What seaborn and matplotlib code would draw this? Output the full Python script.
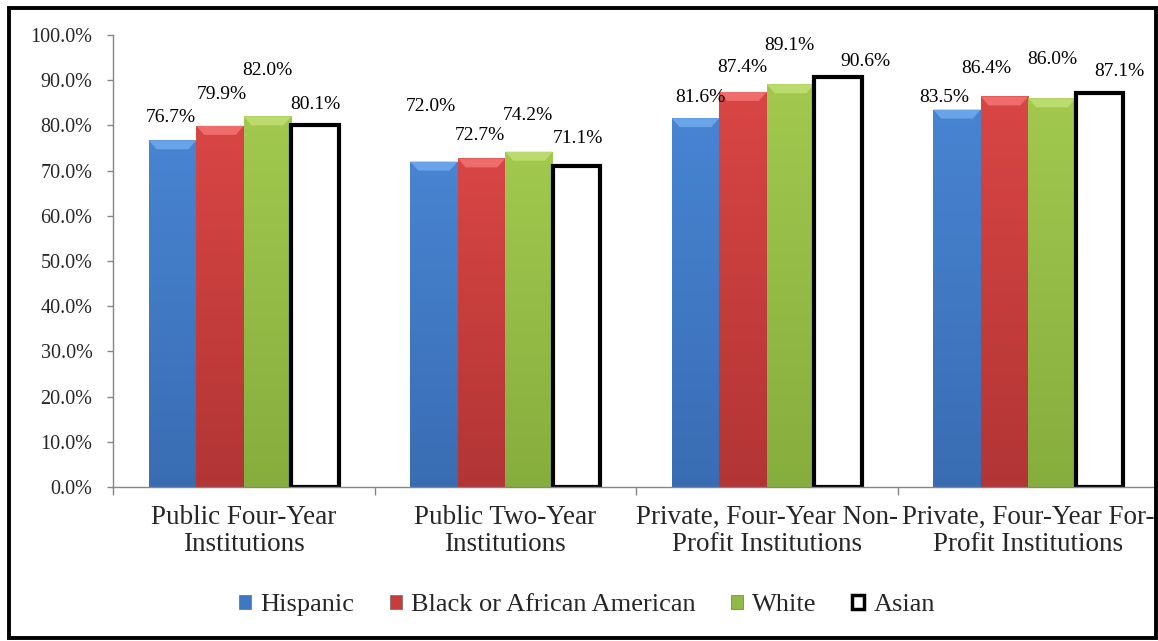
import numpy as np
import pandas as pd
import matplotlib
matplotlib.use("Agg")
import matplotlib.pyplot as plt
import seaborn as sns
from matplotlib.patches import Rectangle, Patch, Polygon
from matplotlib.colors import LinearSegmentedColormap
from matplotlib.ticker import PercentFormatter

# ---------------- data ----------------
categories = [
    "Public Four-Year\nInstitutions",
    "Public Two-Year\nInstitutions",
    "Private, Four-Year Non-\nProfit Institutions",
    "Private, Four-Year For-\nProfit Institutions",
]
groups = ["Hispanic", "Black or African American", "White", "Asian"]
hispanic = [76.7, 72.0, 81.6, 83.5]
black = [79.9, 72.7, 87.4, 86.4]
white = [82.0, 74.2, 89.1, 86.0]
asian = [80.1, 71.1, 90.6, 87.1]
y_ticks = [0, 10, 20, 30, 40, 50, 60, 70, 80, 90, 100]

series = [hispanic, black, white, asian]
df = pd.DataFrame({
    "Institution": [c for s in series for c in categories],
    "Group": [g for g, s in zip(groups, series) for _ in s],
    "Rate": [v for s in series for v in s],
})

# ---------------- style ----------------
top_colors = ["#4884d2", "#d84644", "#a2c84e", "#ffffff"]
bottom_colors = ["#396db3", "#b23535", "#86ae3e", "#ffffff"]
bevel_colors = ["#6aa4e8", "#ee6c6a", "#bcdb6e", "#ffffff"]
mid_colors = ["#3e78c3", "#c83c3c", "#91b946", "#ffffff"]
# label offsets in pixels (dx, dy) per series, per category, as placed in the original
label_dx = [[-2, -3, 5, -13], [2, -2, -1, -18], [0, -1, -1, 0], [0, 1, 27, 20]]
label_dy = [[23, 55, 21, 12], [31, 23, 24, 28], [46, 36, 39, 39], [20, 27, 16, 22]]

sns.set_theme(style="white")
plt.rcParams["font.family"] = ["Liberation Serif", "DejaVu Serif"]

W, H = 1158, 641
fig = plt.figure(figsize=(W / 100, H / 100), dpi=100)
ax = fig.add_axes([113 / W, 1 - 487 / H, 1046 / W, (487 - 35) / H])

sns.barplot(data=df, x="Institution", y="Rate", hue="Group", order=categories,
            hue_order=groups, palette=dict(zip(groups, mid_colors)), width=0.727,
            saturation=1, errorbar=None, legend=False, ax=ax)

ax.set_xlim(-0.5, 3.5)
ax.set_ylim(0, 100)

px_x = 1.0 / 261.5   # data units per pixel horizontally
px_y = 100.0 / 452   # data units per pixel vertically

for i, cont in enumerate(ax.containers):
    for j, bar in enumerate(cont):
        x0, w, h = bar.get_x(), bar.get_width(), bar.get_height()
        if i < 3:
            bar.set_edgecolor("none")
            cmap = LinearSegmentedColormap.from_list("g", [bottom_colors[i], top_colors[i]])
            grad = np.linspace(0, 1, 256).reshape(-1, 1)
            im = ax.imshow(grad, cmap=cmap, extent=[x0, x0 + w, 0, h], origin="lower",
                           aspect="auto", zorder=bar.get_zorder() + 0.1)
            im.set_clip_path(bar)
            bw, bh = 8 * px_x, 9 * px_y
            bevel = Polygon([[x0, h], [x0 + w, h], [x0 + w - bw, h - bh], [x0 + bw, h - bh]],
                            closed=True, facecolor=bevel_colors[i], edgecolor="none",
                            zorder=bar.get_zorder() + 0.2)
            ax.add_patch(bevel)
        else:
            bar.set_facecolor("white")
            bar.set_edgecolor("black")
            bar.set_linewidth(3)
            bar.set_zorder(bar.get_zorder() + 0.3)
        ax.annotate(f"{series[i][j]:.1f}%", (x0 + w / 2, h),
                    xytext=(label_dx[i][j], label_dy[i][j]), textcoords="offset pixels",
                    ha="center", va="center", fontsize=14, color="black", zorder=10)

ax.set_xlim(-0.5, 3.5)
ax.set_ylim(0, 100)
ax.set_yticks(y_ticks)
ax.yaxis.set_major_formatter(PercentFormatter(decimals=1))
ax.set_xlabel("")
ax.set_ylabel("")
ax.grid(False)

sns.despine(ax=ax, top=True, right=True)
for sp in ["left", "bottom"]:
    ax.spines[sp].set_color("#868686")
    ax.spines[sp].set_linewidth(1)

ax.tick_params(axis="y", direction="out", length=4.3, width=1, color="#868686",
               pad=10.5, labelsize=14.5, left=True)
ax.set_xticks([-0.5, 0.5, 1.5, 2.5], minor=True)
ax.tick_params(axis="x", which="major", length=0, pad=13, labelsize=19.5)
ax.tick_params(axis="x", which="minor", direction="out", length=6, width=1,
               color="#868686", bottom=True)
plt.setp(ax.get_xticklabels(), linespacing=1.12)

handles = [Patch(facecolor=mid_colors[k], edgecolor="#555555", linewidth=0.4) for k in range(3)]
handles.append(Patch(facecolor="white", edgecolor="black", linewidth=2.5))
fig.legend(handles, groups, loc="center", bbox_to_anchor=(0.507, 1 - 605 / H), ncol=4,
           frameon=False, fontsize=19, handlelength=0.45, handleheight=0.45,
           handletextpad=0.35, columnspacing=1.35)

fig.add_artist(Rectangle((9 / W, 1 - 638 / H), (1156 - 9) / W, (638 - 8) / H,
                         transform=fig.transFigure, fill=False, edgecolor="black",
                         linewidth=2.8))

fig.savefig("out.png", dpi=100)
